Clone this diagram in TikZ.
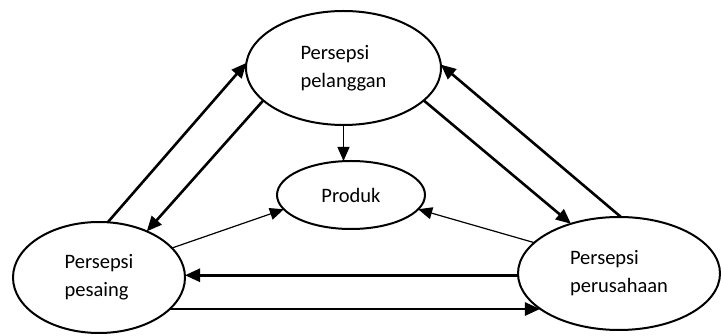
\documentclass[tikz,border=0pt]{standalone}
\usepackage{fontspec}
\setmainfont{Carlito}
\usetikzlibrary{shapes.geometric,arrows.meta}
\begin{document}
\begin{tikzpicture}[x=1pt,y=-1pt,
  oval/.style={draw,ellipse,line width=2pt,inner sep=0pt,outer sep=0pt,
    align=left,font=\fontsize{20.5}{28}\selectfont},
  thick arrow/.style={line width=2.6pt,-{Triangle[length=15pt,width=13pt]}},
  thin arrow/.style={line width=1.2pt,-{Triangle[length=14pt,width=12pt]}}]
\useasboundingbox (0,0) rectangle (721,336);

% the four perceptions
\node[oval,minimum width=195pt,minimum height=114pt] (pel) at (343.5,68) {Persepsi\\pelanggan};
\node[oval,minimum width=148pt,minimum height=68pt] (prd) at (351,195) {Produk};
\node[oval,minimum width=172pt,minimum height=111pt] (pes) at (99,277.5) {Persepsi\\pesaing};
\node[oval,minimum width=202pt,minimum height=113pt] (per) at (619,273.5) {Persepsi\\perusahaan};

% links between customer, competitor and company
\draw[thick arrow] (pes.81) -- (pel.177);
\draw[thick arrow] (pel.202.4) -- (pes.44.1);
\draw[thick arrow] (pel.338.8) -- (per.134.1);
\draw[thick arrow] (per.88) -- (pel.2.9);
\draw[thick arrow] (per.181.1) -- (per.181.1 -| pes.east);
\draw[thick arrow] (pes.336) -- (pes.336 -| per.204.3);

% everything points at the product
\draw[thin arrow] (pel.south) -- (pel.south |- prd.north);
\draw[thin arrow] (pes.22.4) -- (prd.192);
\draw[thin arrow] (per.160.7) -- (prd.348);
\end{tikzpicture}
\end{document}
